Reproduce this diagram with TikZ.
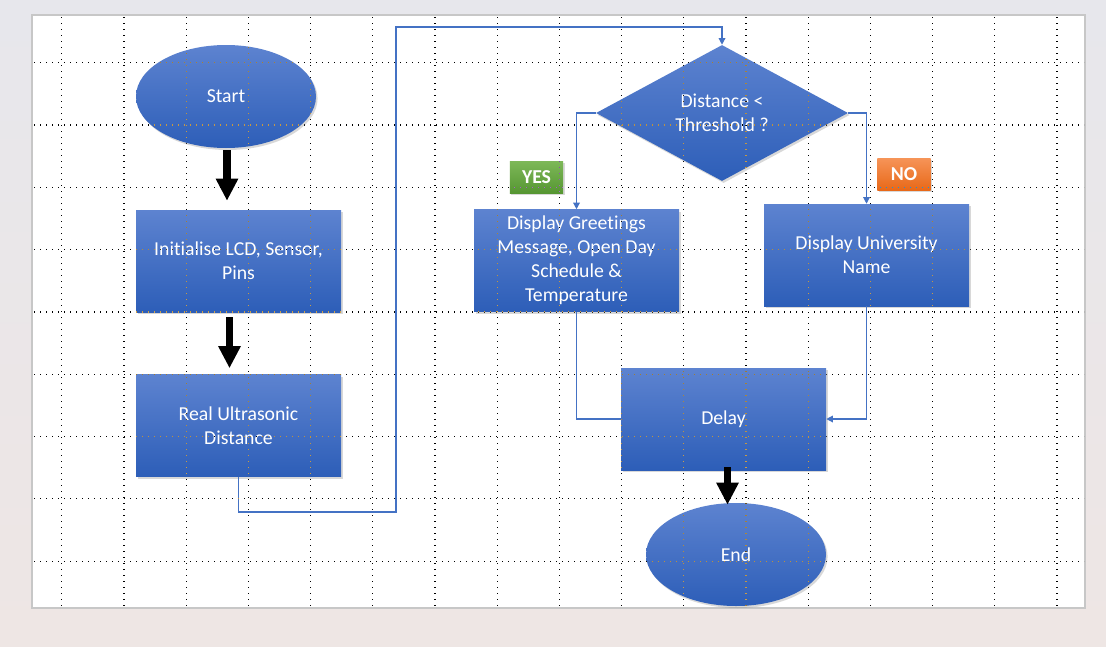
\documentclass[tikz,border=0pt]{standalone}
\usepackage{fontspec}
\setmainfont{Carlito}[Ligatures=NoCommon]
\usetikzlibrary{arrows.meta,calc,shapes.geometric,shadows}
\definecolor{linkblue}{RGB}{68,114,196}
\definecolor{boxtop}{RGB}{93,131,208}
\definecolor{boxbottom}{RGB}{45,94,184}
\definecolor{yestop}{RGB}{125,184,88}
\definecolor{yesbottom}{RGB}{86,150,50}
\definecolor{notop}{RGB}{246,148,88}
\definecolor{nobottom}{RGB}{232,104,24}
\definecolor{bgtop}{RGB}{231,231,236}
\definecolor{bgbottom}{RGB}{238,230,228}

\begin{document}
\begin{tikzpicture}[
  x=0.75pt,
  y=-0.75pt,
  font=\fontsize{14.8}{18}\selectfont,
  blockshade/.style={
    top color=boxtop,
    bottom color=boxbottom,
    draw=none,
    text=white,
    align=center,
    inner sep=0pt,
    drop shadow={opacity=0.3,shadow xshift=1.2pt,shadow yshift=-1.5pt}
  },
  process/.style={blockshade,rectangle,minimum width=153.75pt,minimum height=76.5pt},
  terminal/.style={blockshade,ellipse,minimum width=135pt,minimum height=77.25pt},
  decision/.style={blockshade,diamond,aspect=1.85,minimum width=189pt,minimum height=102pt},
  tag/.style={
    text=white,
    font=\fontsize{14.8}{18}\selectfont\bfseries,
    minimum width=40pt,
    minimum height=24pt,
    inner sep=0pt,
    drop shadow={opacity=0.3,shadow xshift=1.2pt,shadow yshift=-1.5pt}
  },
  yestag/.style={tag,top color=yestop,bottom color=yesbottom},
  notag/.style={tag,top color=notop,bottom color=nobottom},
  link/.style={linkblue,line width=0.9pt,-{Triangle[length=5pt,width=5pt]}},
  bigarrow/.style={line width=5.5pt,-{Triangle[length=16.5pt,width=15.75pt]}},
  griddot/.style={white,line width=0.9pt,dash pattern=on 0.7pt off 3.8pt}
]
  \useasboundingbox (0,0) rectangle (1106,646);
  \shade[top color=bgtop,bottom color=bgbottom] (0,0) rectangle (1106,646);
  \draw[fill=white,draw=black!22,line width=0.9pt] (32,15) rectangle (1085,608);

  \node[terminal] (start) at (226,96.5) {Start};
  \node[process] (init) at (238.5,261) {Initialise LCD, Sensor,\\Pins};
  \node[process] (ultra) at (238.5,425.5) {Real Ultrasonic\\Distance};
  \node[decision] (cond) at (722,113) {Distance <\\Threshold ?};
  \node[process] (greet) at (576.5,260.5)
    {Display Greetings\\Message, Open Day\\Schedule \&\\Temperature};
  \node[process] (uni) at (866.5,255) {Display University\\Name};
  \node[process] (delay) at (723.5,419) {Delay};
  \node[terminal] (stop) at (736,554.5) {End};
  \node[yestag] (yes) at (536.5,177) {YES};
  \node[notag] (no) at (904,174) {NO};

  \draw[link] (ultra.south) |- (396,512) -- (396,27) -| (cond.north);
  \draw[link] (cond.west) -| (greet.north);
  \draw[link] (cond.east) -| (uni.north);
  \draw[link,-] (greet.south) |- (delay.west);
  \draw[link] (uni.south) |- (delay.east);

  \begin{scope}[blend mode=difference]
    \foreach \gx in {0,...,16}
      \draw[griddot] (61.7+62.2*\gx,17) -- (61.7+62.2*\gx,607);
    \foreach \gy in {0,...,8}
      \draw[griddot] (34,62.7+62.3*\gy) -- (1084,62.7+62.3*\gy);
  \end{scope}

  \draw[bigarrow] ($(start.south)+(1,2)$) -- ($(start.south |- init.north)+(1,-9)$);
  \draw[bigarrow] ($(init.south)+(-9,5)$) -- ($(init.south |- ultra.north)+(-9,-6)$);
  \draw[bigarrow] ($(delay.south)+(4,-3)$) -- ($(delay.south |- stop.north)+(4,2)$);
\end{tikzpicture}
\end{document}
